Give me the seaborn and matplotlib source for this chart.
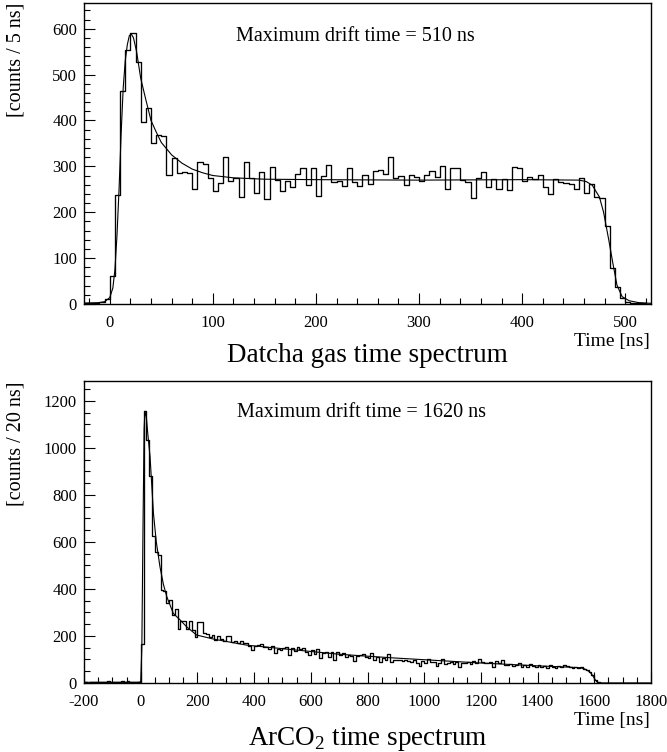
import numpy as np
import pandas as pd
import seaborn as sns
import matplotlib.pyplot as plt
from matplotlib.ticker import MultipleLocator

# Datcha gas spectrum, 5 ns bins from -25 to 525 ns
datcha_edges = np.arange(-25, 530, 5)
datcha_counts = [3, 2, 3, 4, 11,
                 60, 237, 464, 553, 590, 528, 396, 428, 350, 368, 366, 282, 319, 286, 287, 285, 250, 309, 306, 275,
                 246, 264, 321, 267, 275, 234, 309, 275, 243, 287, 229, 299, 270, 247, 268, 256, 283, 296, 259, 297,
                 235, 279, 304, 266, 268, 258, 296, 266, 257, 281, 261, 290, 292, 283, 320, 274, 280, 259, 281, 277,
                 267, 281, 290, 276, 301, 250, 297, 297, 270, 265, 232, 274, 288, 254, 272, 250, 272, 248, 298, 296,
                 267, 276, 272, 281, 254, 240, 272, 265, 263, 261, 250, 274, 243, 261, 234, 230, 170, 78, 36, 12,
                 5, 3, 2, 2, 1]
# fitted curve
datcha_fit_t = [-25, -10, -5, 0, 3, 5, 7, 9, 11, 13, 15, 17, 19, 21, 23, 26, 30, 35, 40, 45, 50, 60, 70,
                80, 90, 100, 120, 150, 200, 300, 400, 455, 462, 468, 475, 479, 484, 488, 492, 497, 504, 513, 525]
datcha_fit_y = [2, 3, 5, 14, 35, 75, 150, 250, 370, 470, 530, 565, 585, 588, 580, 550, 492, 445, 400, 375, 352, 325, 307,
                294, 286, 280, 275, 272, 271, 270, 271, 270, 267, 259, 233, 200, 140, 89, 41, 16, 7, 3, 1.5]

# ArCO2 spectrum, 10 ns bins from -200 to 1800 ns
arco2_edges = np.arange(-200, 1810, 10)
arco2_counts = [3, 2, 4, 5, 3, 6, 4, 3, 7, 5, 4, 6, 3, 8, 5, 10, 6, 4, 5, 3,
                164, 1155, 1035, 880, 626, 555, 545, 397, 393, 341,
                353, 289, 314, 230, 262, 262, 228, 262, 225, 197,
                258, 258, 214, 208, 194, 204, 183, 200, 186, 180,
                200, 200, 176, 178, 171, 178, 169, 169, 157, 140,
                157, 161, 166, 152, 154, 143, 157, 129, 143, 140,
                147, 152, 119, 147, 137, 152, 143, 147, 133, 119,
                140, 123, 143, 105, 126, 133, 109, 133, 98, 133,
                118, 128, 112, 121, 116, 93, 115, 119, 123, 112,
                105, 129, 98, 109, 91, 105, 98, 123, 91, 98,
                99, 97, 95, 96, 94, 88, 98, 84, 72, 95,
                84, 103, 91, 88, 72, 84, 101, 81, 86, 91,
                81, 91, 67, 84, 86, 91, 81, 93, 84, 101,
                91, 86, 84, 91, 67, 95, 86, 98, 77, 77,
                80, 72, 77, 84, 70, 78, 68, 81, 74, 66,
                77, 70, 72, 64, 75, 68, 62, 71, 67, 76,
                74, 66, 62, 69, 64, 67, 60, 55, 47, 34,
                14, 3, 0, 0, 0, 0, 0, 0, 0, 0, 0, 0, 0, 0, 0, 0, 0, 0, 0, 0]
arco2_fit_t = [-200, -10, 0, 4, 8, 12, 15, 20, 25, 33, 45, 55, 68, 80, 92, 115, 139, 162, 197, 256, 300, 374,
               491, 609, 703, 800, 900, 1000, 1100, 1200, 1300, 1400, 1500, 1550, 1565, 1578, 1588, 1596,
               1603, 1610, 1620, 1800]
arco2_fit_y = [3, 3, 5, 150, 650, 1080, 1155, 1130, 1060, 962, 721, 600, 494, 420, 367, 296, 268, 239, 204, 187,
               177, 161, 147, 133, 122, 114, 106, 99, 92, 85, 79, 73, 68, 65, 60, 52, 42, 28, 14, 4, 0, 0]

sns.set_theme(style="white")
plt.rcParams['font.family'] = ['Liberation Serif', 'DejaVu Serif']
plt.rcParams['mathtext.fontset'] = 'custom'
plt.rcParams['mathtext.rm'] = 'Liberation Serif'
plt.rcParams['axes.unicode_minus'] = False
plt.rcParams['text.color'] = 'black'

W, H = 667, 752
fig = plt.figure(figsize=(W / 100, H / 100), dpi=100)
fig.patch.set_facecolor('white')


def px_axes(left, top, right, bottom):
    return fig.add_axes([left / W, 1 - bottom / H, (right - left) / W, (bottom - top) / H])


def draw_panel(ax, edges, counts, fit_t, fit_y, xlim, ylim, xmaj, xmin, ymaj, ymin):
    hist_df = pd.DataFrame({'t': (edges[:-1] + edges[1:]) / 2, 'n': counts})
    fit_df = pd.DataFrame({'t': fit_t, 'y': fit_y})
    sns.histplot(data=hist_df, x='t', weights='n', bins=list(edges), element='step', fill=False,
                 color='black', linewidth=0.95, ax=ax)
    sns.lineplot(data=fit_df, x='t', y='y', color='black', linewidth=0.8, ax=ax)
    ax.set_xlim(*xlim)
    ax.set_ylim(*ylim)
    ax.set_xlabel('')
    ax.set_ylabel('')
    ax.xaxis.set_major_locator(MultipleLocator(xmaj))
    ax.xaxis.set_minor_locator(MultipleLocator(xmin))
    ax.yaxis.set_major_locator(MultipleLocator(ymaj))
    ax.yaxis.set_minor_locator(MultipleLocator(ymin))
    ax.tick_params(which='both', direction='in', bottom=True, left=True, top=False, right=False,
                   color='black', labelsize=12, labelcolor='black')
    ax.tick_params(which='major', length=8, width=0.8)
    ax.tick_params(which='minor', length=4.3, width=0.8)
    ax.tick_params(axis='x', which='major', pad=8)
    ax.tick_params(axis='y', which='major', pad=5)
    for s in ax.spines.values():
        s.set_color('black')
        s.set_linewidth(1)
    ax.set_facecolor('white')


ax1 = px_axes(84, 3, 651, 304)
draw_panel(ax1, datcha_edges, datcha_counts, datcha_fit_t, datcha_fit_y,
           (-25, 525), (0, 656), 100, 20, 100, 20)
ax1.text(-0.12, 1.0, '[counts / 5 ns]', rotation=90, ha='center', va='top',
         transform=ax1.transAxes, fontsize=14.5)
fig.text(236 / W, 1 - 41 / H, 'Maximum drift time = 510 ns', ha='left', va='baseline', fontsize=14.5)
fig.text(650 / W, 1 - 346 / H, 'Time [ns]', ha='right', va='baseline', fontsize=14)
fig.text(367.5 / W, 1 - 362 / H, 'Datcha gas time spectrum', ha='center', va='baseline', fontsize=19.5)

ax2 = px_axes(84, 381, 651, 683)
draw_panel(ax2, arco2_edges, arco2_counts, arco2_fit_t, arco2_fit_y,
           (-200, 1800), (0, 1284), 200, 50, 200, 50)
ax2.text(-0.12, 1.0, '[counts / 20 ns]', rotation=90, ha='center', va='top',
         transform=ax2.transAxes, fontsize=14.5)
fig.text(237 / W, 1 - 417 / H, 'Maximum drift time = 1620 ns', ha='left', va='baseline', fontsize=14.5)
fig.text(650 / W, 1 - 725 / H, 'Time [ns]', ha='right', va='baseline', fontsize=14)
fig.text(367.5 / W, 1 - 745 / H, r'ArCO$_\mathrm{2}$ time spectrum', ha='center', va='baseline', fontsize=19.5)

fig.savefig('out.png', dpi=100)
